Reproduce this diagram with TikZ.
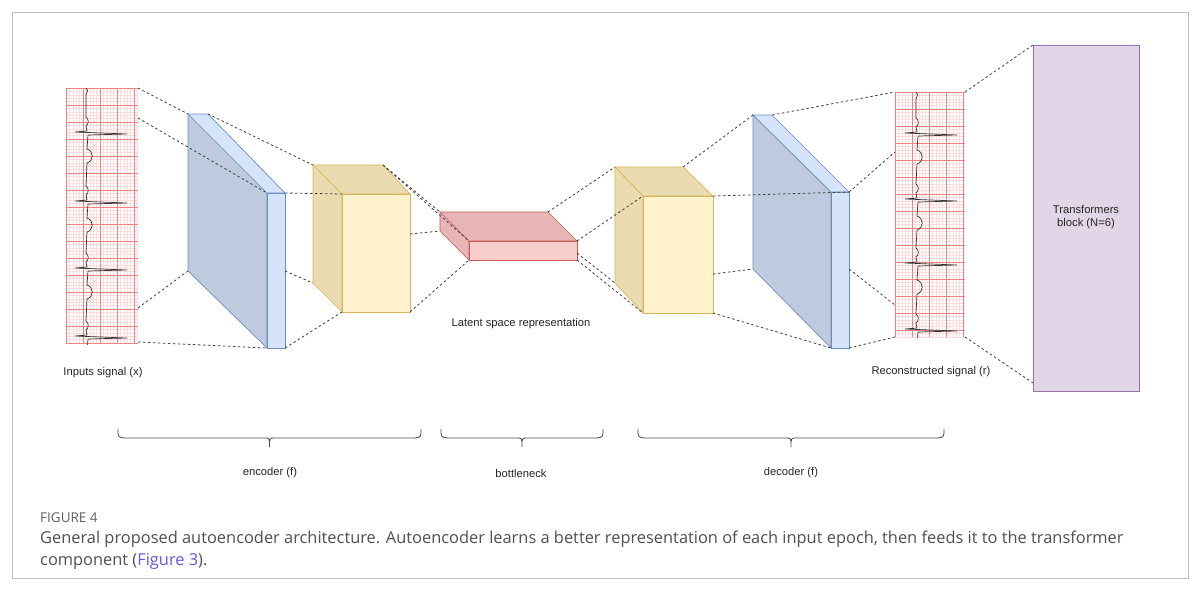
\documentclass[tikz,border=0pt]{standalone}
\usepackage{fontspec}
\setmainfont{Liberation Sans}
\newfontfamily\capfont{Open Sans}
\begin{document}
\begin{tikzpicture}[x=1pt,y=-1pt,
  dl/.style={line width=0.8pt,black!75,dash pattern=on 2.5pt off 2.5pt},
  lbl/.style={font=\fontsize{11.2}{13.5}\selectfont,text=black!85},
  blueD/.style={fill={rgb,255:red,190;green,203;blue,222},draw={rgb,255:red,108;green,142;blue,191},line width=0.7pt},
  blueL/.style={fill={rgb,255:red,214;green,228;blue,250},draw={rgb,255:red,108;green,142;blue,191},line width=0.7pt},
  yelD/.style={fill={rgb,255:red,234;green,220;blue,176},draw={rgb,255:red,214;green,182;blue,86},line width=0.7pt},
  yelL/.style={fill={rgb,255:red,255;green,242;blue,204},draw={rgb,255:red,214;green,182;blue,86},line width=0.7pt},
  redD/.style={fill={rgb,255:red,232;green,180;blue,182},draw={rgb,255:red,200;green,90;blue,90},line width=0.7pt},
  redL/.style={fill={rgb,255:red,248;green,206;blue,204},draw={rgb,255:red,200;green,90;blue,90},line width=0.7pt},
  brace/.style={line width=0.8pt,black!70}]
\useasboundingbox (0,0) rectangle (1200,590);
\fill[white] (0,0) rectangle (1200,590);
\draw[black!25,line width=0.8pt] (12,12) rectangle (1188,578);
\definecolor{gmin}{RGB}{252,220,220}
\definecolor{gmaj}{RGB}{242,130,130}
% ECG strips
\newcommand{\ecgstrip}[4]{%
  \fill[white] (#1,#2) rectangle (#3,#4);
  \begin{scope}
  \clip (#1,#2) rectangle (#3,#4);
  \foreach \k in {0,...,80} {
    \draw[gmin,line width=0.3pt] (#1+\k*3.4,#2) -- (#1+\k*3.4,#4);
    \draw[gmin,line width=0.3pt] (#1,#2+\k*3.4) -- (#3,#2+\k*3.4);}
  \foreach \k in {0,...,16} {
    \draw[gmaj,line width=0.5pt] (#1+\k*17,#2) -- (#1+\k*17,#4);
    \draw[gmaj,line width=0.5pt] (#1,#2+\k*17) -- (#3,#2+\k*17);}
  \end{scope}
}
\newcommand{\beat}[2]{%
  \draw[black!80,line width=0.7pt] (#1,#2-16) .. controls (#1+3,#2-14) and (#1+3,#2-9) .. (#1,#2-7)
   -- (#1+1,#2-2) -- (#1-11,#2-1) -- (#1+41,#2+1) -- (#1+2,#2+2) -- (#1+1,#2+16)
   .. controls (#1+8,#2+18) and (#1+8,#2+28) .. (#1+1,#2+30);
}
\ecgstrip{66}{88}{138}{344}
\begin{scope}
\clip (60,88) rectangle (140,344);
\draw[black!80,line width=0.7pt] (86,88) .. controls (88,90) .. (86,95) -- (86,117)
  (87,163) -- (86,186) (87,232) -- (86,253) (87,299) -- (86,321);
\foreach \yy in {133,202,269,337} \beat{86}{\yy};
\end{scope}
\ecgstrip{895}{92}{965}{337}
\begin{scope}
\clip (890,92) rectangle (967,337);
\draw[black!80,line width=0.7pt] (916,92) .. controls (918,94) .. (916,99) -- (916,118)
  (917,164) -- (916,184) (917,230) -- (916,248) (917,294) -- (916,314);
\foreach \yy in {134,200,264,330} \beat{916}{\yy};
\end{scope}
\coordinate (e1tr) at (138,88); \coordinate (e1r1) at (138,118);
\coordinate (e1r2) at (138,308); \coordinate (e1br) at (138,342);
\coordinate (e2tl) at (895,92); \coordinate (e2l1) at (895,152);
\coordinate (e2l2) at (895,305); \coordinate (e2bl) at (895,337);
\coordinate (e2tr) at (965,92); \coordinate (e2br) at (965,337);
% slab 1
\coordinate (s1a) at (188,114); \coordinate (s1b) at (208,114);
\coordinate (s1c) at (267,193); \coordinate (s1d) at (285,193);
\coordinate (s1e) at (267,348); \coordinate (s1f) at (285,348);
\coordinate (s1g) at (188,271); \coordinate (s1m) at (285,271);
\draw[blueD] (s1a) -- (s1c) -- (s1e) -- (s1g) -- cycle;
\draw[blueL] (s1a) -- (s1b) -- (s1d) -- (s1c) -- cycle;
\draw[blueL] (s1c) rectangle (s1f);
% yellow 1
\coordinate (y1a) at (313,165); \coordinate (y1b) at (383,165);
\coordinate (y1c) at (342,194); \coordinate (y1d) at (410,194);
\coordinate (y1e) at (342,312); \coordinate (y1f) at (410,312);
\coordinate (y1g) at (313,283); \coordinate (y1m) at (410,234);
\draw[yelD] (y1a) -- (y1c) -- (y1e) -- (y1g) -- cycle;
\draw[yelD] (y1a) -- (y1b) -- (y1d) -- (y1c) -- cycle;
\draw[yelL] (y1c) rectangle (y1f);
% red
\coordinate (ra) at (440,212); \coordinate (rb) at (548,212);
\coordinate (rc) at (469,241); \coordinate (rd) at (577,241);
\coordinate (re) at (469,260); \coordinate (rf) at (577,260);
\coordinate (rg) at (440,231); \coordinate (rm) at (577,253);
\draw[redD] (ra) -- (rc) -- (re) -- (rg) -- cycle;
\draw[redD] (ra) -- (rb) -- (rd) -- (rc) -- cycle;
\draw[redL] (rc) rectangle (rf);
% yellow 2
\coordinate (y2a) at (615,167); \coordinate (y2b) at (683,167);
\coordinate (y2c) at (643,196); \coordinate (y2d) at (713,196);
\coordinate (y2e) at (643,313); \coordinate (y2f) at (713,313);
\coordinate (y2g) at (615,283); \coordinate (y2m) at (713,274);
\draw[yelD] (y2a) -- (y2c) -- (y2e) -- (y2g) -- cycle;
\draw[yelD] (y2a) -- (y2b) -- (y2d) -- (y2c) -- cycle;
\draw[yelL] (y2c) rectangle (y2f);
% slab 2
\coordinate (s2a) at (753,115); \coordinate (s2b) at (772,115);
\coordinate (s2c) at (831,192); \coordinate (s2d) at (849,192);
\coordinate (s2e) at (831,348); \coordinate (s2f) at (849,348);
\coordinate (s2g) at (753,269); \coordinate (s2m) at (849,269);
\draw[blueD] (s2a) -- (s2c) -- (s2e) -- (s2g) -- cycle;
\draw[blueL] (s2a) -- (s2b) -- (s2d) -- (s2c) -- cycle;
\draw[blueL] (s2c) rectangle (s2f);
% transformer
\node[draw={rgb,255:red,150;green,115;blue,166},fill={rgb,255:red,225;green,213;blue,231},line width=1.2pt,
  minimum width=106pt,minimum height=346pt,anchor=north west,inner sep=0pt] (tr) at (1033,45) {};
\node[lbl,align=center] (trl) at (1086,217) {Transformers\\block (N=6)};
\coordinate (tra) at (1033,45); \coordinate (trb) at (1033,383);
% dashed connectors
\draw[dl] (e1tr) -- (s1a); \draw[dl] (e1r1) -- (s1c);
\draw[dl] (e1r2) -- (s1g); \draw[dl] (e1br) -- (s1e);
\draw[dl] (s1b) -- (y1a); \draw[dl] (s1d) -- (y1c);
\draw[dl] (s1m) -- (y1g); \draw[dl] (s1f) -- (y1e);
\draw[dl] (y1b) -- (rc); \draw[dl] (y1b) -- (ra);
\draw[dl] (y1m) -- (rg); \draw[dl] (y1f) -- (re);
\draw[dl] (rb) -- (y2a); \draw[dl] (rd) -- (y2c);
\draw[dl] (rm) -- (y2g); \draw[dl] (rf) -- (y2e);
\draw[dl] (y2b) -- (s2a); \draw[dl] (y2d) -- (s2d);
\draw[dl] (y2m) -- (s2g); \draw[dl] (y2f) -- (s2e);
\draw[dl] (s2b) -- (e2tl); \draw[dl] (s2d) -- (e2l1);
\draw[dl] (s2m) -- (e2l2); \draw[dl] (s2f) -- (e2bl);
\draw[dl] (e2tr) -- (tra); \draw[dl] (e2br) -- (trb);
% labels
\node[lbl] (l1) at (103,373) {Inputs signal (x)};
\node[lbl] (l2) at (521,324) {Latent space representation};
\node[lbl] (l3) at (931,372) {Reconstructed signal (r)};
% braces
\newcommand{\mybrace}[3]{%
  \draw[brace] (#1,#3) .. controls (#1,#3+8) .. (#1+6,#3+9) -- ({(#1+#2)/2-5},#3+9)
   .. controls ({(#1+#2)/2},#3+9) .. ({(#1+#2)/2},#3+18)
   .. controls ({(#1+#2)/2},#3+9) .. ({(#1+#2)/2+5},#3+9) -- (#2-6,#3+9)
   .. controls (#2,#3+8) .. (#2,#3);}
\mybrace{118}{421}{429}
\mybrace{441}{603}{429}
\mybrace{638}{944}{429}
\node[lbl] (b1) at (270,473) {encoder (f)};
\node[lbl] (b2) at (521,473) {bottleneck};
\node[lbl] (b3) at (791,473) {decoder (f)};
% caption
\definecolor{capc}{RGB}{80,80,80}
\definecolor{linkc}{RGB}{100,90,220}
\node[anchor=west,inner sep=0pt,font=\capfont\fontsize{13.5}{15}\selectfont,text=capc!90] (cap0) at (40,518) {FIGURE 4};
\node[anchor=north west,inner sep=0pt,align=left,font=\capfont\fontsize{16.4}{22}\selectfont,text=capc] (cap1) at (40,531)
 {General proposed autoencoder architecture. Autoencoder learns a better representation of each input epoch, then feeds it to the transformer\\component (\textcolor{linkc}{Figure 3}).};
\end{tikzpicture}
\end{document}
